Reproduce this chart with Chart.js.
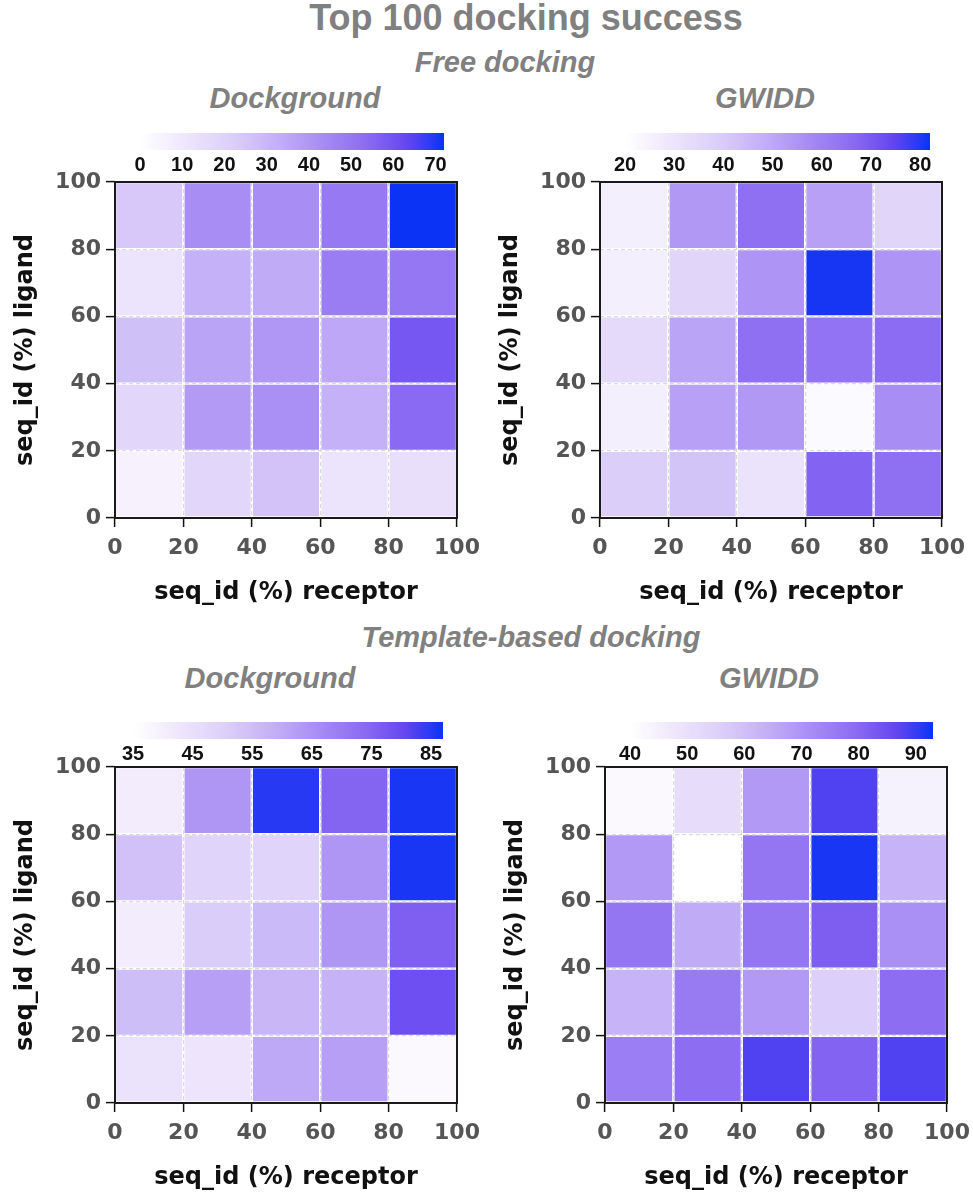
<!DOCTYPE html>
<html>
<head>
<meta charset="utf-8">
<script src="https://cdn.jsdelivr.net/npm/chart.js@4.4.0/dist/chart.umd.min.js"></script>
<style>
  body { margin: 0; background: #fff; width: 973px; height: 1200px; position: relative; overflow: hidden;
         font-family: "Liberation Sans", Arial, sans-serif; }
  .t { position: absolute; color: #808080; font-weight: bold; white-space: nowrap; line-height: 1; transform: translateX(-50%); }
  .sub { font-style: italic; font-size: 29px; }
  canvas { position: absolute; }
</style>
</head>
<body>
<div class="t" style="left:526px; top:0px; font-size:36px;">Top 100 docking success</div>
<div class="t sub" style="left:505px; top:48px;">Free docking</div>
<div class="t sub" style="left:295px; top:84px;">Dockground</div>
<div class="t sub" style="left:765px; top:84px;">GWIDD</div>
<div class="t sub" style="left:531px; top:623px;">Template-based docking</div>
<div class="t sub" style="left:270px; top:664px;">Dockground</div>
<div class="t sub" style="left:769px; top:664px;">GWIDD</div>

<canvas id="cbFreeDg"></canvas>
<canvas id="cbFreeGw"></canvas>
<canvas id="cbTplDg"></canvas>
<canvas id="cbTplGw"></canvas>
<canvas id="hmFreeDg"></canvas>
<canvas id="hmFreeGw"></canvas>
<canvas id="hmTplDg"></canvas>
<canvas id="hmTplGw"></canvas>

<script>
// bin edges of seq_id (%) on both axes
var seqEdges = [0, 20, 40, 60, 80, 100];
var seqTicks = [0, 20, 40, 60, 80, 100];

// docking success, rows = ligand bins (0-20 at bottom ... 80-100 at top),
// columns = receptor bins (0-20 ... 80-100)
var freeDockground = [
  [6, 18, 26, 12, 14],
  [18, 39, 42, 32, 54],
  [27, 36, 40, 35, 59],
  [12, 32, 34, 48, 50],
  [24, 43, 43, 49, 72]
];
var freeGwidd = [
  [39, 42, 31, 68, 65],
  [26, 52, 54, 22, 57],
  [34, 51, 65, 64, 66],
  [26, 36, 55, 81, 55],
  [26, 54, 65, 52, 36]
];
var templDockground = [
  [44, 43, 60, 62, 37],
  [55, 62, 57, 58, 79],
  [41, 51, 56, 64, 76],
  [54, 49, 49, 64, 86],
  [41, 64, 85, 75, 86]
];
var templGwidd = [
  [75, 79, 88, 81, 88],
  [63, 76, 69, 56, 79],
  [77, 65, 77, 82, 71],
  [69, 40, 77, 92, 63],
  [42, 51, 69, 88, 44]
];

// colour bar ranges and tick labels
var freeDgRange = [0, 72];
var freeDgTicks = [0, 10, 20, 30, 40, 50, 60, 70];
var freeGwRange = [20, 82];
var freeGwTicks = [20, 30, 40, 50, 60, 70, 80];
var templDgRange = [35, 87];
var templDgTicks = [35, 45, 55, 65, 75, 85];
var templGwRange = [40, 93];
var templGwTicks = [40, 50, 60, 70, 80, 90];

// white -> lavender -> purple -> blue
var cmapStops = [
  [0.0, [255, 255, 255]],
  [0.15, [238, 230, 252]],
  [0.3, [220, 207, 249]],
  [0.45, [196, 176, 247]],
  [0.6, [167, 140, 244]],
  [0.75, [138, 106, 242]],
  [0.88, [100, 70, 240]],
  [1.0, [10, 51, 245]]
];

function cmap(t) {
  t = Math.max(0, Math.min(1, t));
  for (var i = 1; i < cmapStops.length; i++) {
    if (t <= cmapStops[i][0]) {
      var a = cmapStops[i - 1], b = cmapStops[i];
      var f = (t - a[0]) / (b[0] - a[0]);
      var c = a[1].map(function (v, k) { return Math.round(v + (b[1][k] - v) * f); });
      return 'rgb(' + c.join(',') + ')';
    }
  }
  return 'rgb(10,51,245)';
}

Chart.defaults.font.family = 'DejaVu Sans';

var framePlugin = {
  id: 'frame',
  afterDraw: function (chart) {
    var a = chart.chartArea, ctx = chart.ctx;
    ctx.save();
    ctx.strokeStyle = '#1a1a1a';
    ctx.lineWidth = 2;
    ctx.strokeRect(a.left, a.top, a.right - a.left, a.bottom - a.top);
    ctx.restore();
  }
};

function place(id, left, top, w, h) {
  var c = document.getElementById(id);
  c.width = w; c.height = h;
  c.style.left = left + 'px';
  c.style.top = top + 'px';
  return c;
}

var tickFont = { family: 'DejaVu Sans', weight: 'bold', size: 22 };
var axisTitleFont = { family: 'DejaVu Sans', weight: 'bold', size: 24 };

function heatmap(id, left, top, values, range) {
  var cells = [];
  values.forEach(function (row, r) {
    row.forEach(function (v, c) {
      cells.push({ x: (seqEdges[c] + seqEdges[c + 1]) / 2, y: [seqEdges[r], seqEdges[r + 1]], v: v });
    });
  });
  var canvas = place(id, left, top, 480, 450);
  var grid = { offset: false, color: '#d9d9d9', lineWidth: 1.2, z: 1, tickColor: '#111',
               tickWidth: 1.5, tickLength: 9, tickBorderDash: [] };
  return new Chart(canvas, {
    type: 'bar',
    data: {
      datasets: [{
        data: cells,
        backgroundColor: function (ctx) {
          var p = ctx.raw;
          return p ? cmap((p.v - range[0]) / (range[1] - range[0])) : '#fff';
        },
        borderColor: '#ffffff',
        borderWidth: 1.5,
        borderSkipped: false,
        categoryPercentage: 1,
        barPercentage: 1
      }]
    },
    options: {
      responsive: false,
      animation: false,
      layout: { padding: { top: 22, right: 23, left: 0, bottom: 0 } },
      plugins: { legend: { display: false }, tooltip: { enabled: false } },
      scales: {
        x: {
          type: 'linear', min: 0, max: 100, offset: false,
          afterBuildTicks: function (s) { s.ticks = seqTicks.map(function (v) { return { value: v }; }); },
          afterFit: function (s) { s.height = 92; s.paddingLeft = 0; s.paddingRight = 0; },
          grid: grid,
          border: { display: false, dash: [4, 3] },
          ticks: { color: '#555', font: tickFont, padding: 8, maxRotation: 0, autoSkip: false },
          title: { display: true, text: 'seq_id (%) receptor', color: '#111', font: axisTitleFont,
                   padding: { top: 0, bottom: 3 } }
        },
        y: {
          type: 'linear', min: 0, max: 100,
          afterBuildTicks: function (s) { s.ticks = seqTicks.map(function (v) { return { value: v }; }); },
          afterFit: function (s) { s.width = 115; s.paddingTop = 0; s.paddingBottom = 0; },
          grid: grid,
          border: { display: false, dash: [4, 3] },
          ticks: { color: '#555', font: tickFont, padding: 5, autoSkip: false },
          title: { display: true, text: 'seq_id (%) ligand', color: '#111', font: axisTitleFont,
                   padding: { top: 11, bottom: 0 } }
        }
      }
    },
    plugins: [framePlugin]
  });
}

function colorbar(id, x0, x1, top, range, ticks) {
  var canvas = place(id, x0 - 40, top, (x1 - x0) + 80, 60);
  return new Chart(canvas, {
    type: 'bar',
    data: {
      labels: [''],
      datasets: [{
        data: [range],
        backgroundColor: function (c) {
          var ch = c.chart, xs = ch.scales.x;
          if (!xs || !ch.chartArea) return '#fff';
          var g = ch.ctx.createLinearGradient(xs.getPixelForValue(range[0]), 0, xs.getPixelForValue(range[1]), 0);
          for (var i = 0; i <= 40; i++) g.addColorStop(i / 40, cmap(i / 40));
          return g;
        },
        borderWidth: 0,
        borderSkipped: false,
        categoryPercentage: 1,
        barPercentage: 1
      }]
    },
    options: {
      indexAxis: 'y',
      responsive: false,
      animation: false,
      layout: { padding: { left: 40, right: 40, top: 8, bottom: 0 } },
      plugins: { legend: { display: false }, tooltip: { enabled: false } },
      scales: {
        x: {
          type: 'linear', min: range[0], max: range[1],
          afterBuildTicks: function (s) { s.ticks = ticks.map(function (v) { return { value: v }; }); },
          afterFit: function (s) { s.height = 35; s.paddingLeft = 0; s.paddingRight = 0; },
          grid: { display: false, drawTicks: false, tickLength: 0 },
          border: { display: false },
          ticks: { color: '#111', font: { family: 'Liberation Sans', weight: 'bold', size: 20 },
                   padding: 3, maxRotation: 0, autoSkip: false }
        },
        y: { display: false }
      }
    }
  });
}

colorbar('cbFreeDg', 140, 444, 125, freeDgRange, freeDgTicks);
colorbar('cbFreeGw', 625, 930, 125, freeGwRange, freeGwTicks);
colorbar('cbTplDg', 133, 443, 714, templDgRange, templDgTicks);
colorbar('cbTplGw', 630, 933, 714, templGwRange, templGwTicks);

heatmap('hmFreeDg', 0, 160, freeDockground, freeDgRange);
heatmap('hmFreeGw', 485, 160, freeGwidd, freeGwRange);
heatmap('hmTplDg', 0, 745, templDockground, templDgRange);
heatmap('hmTplGw', 490, 745, templGwidd, templGwRange);
</script>
</body>
</html>
